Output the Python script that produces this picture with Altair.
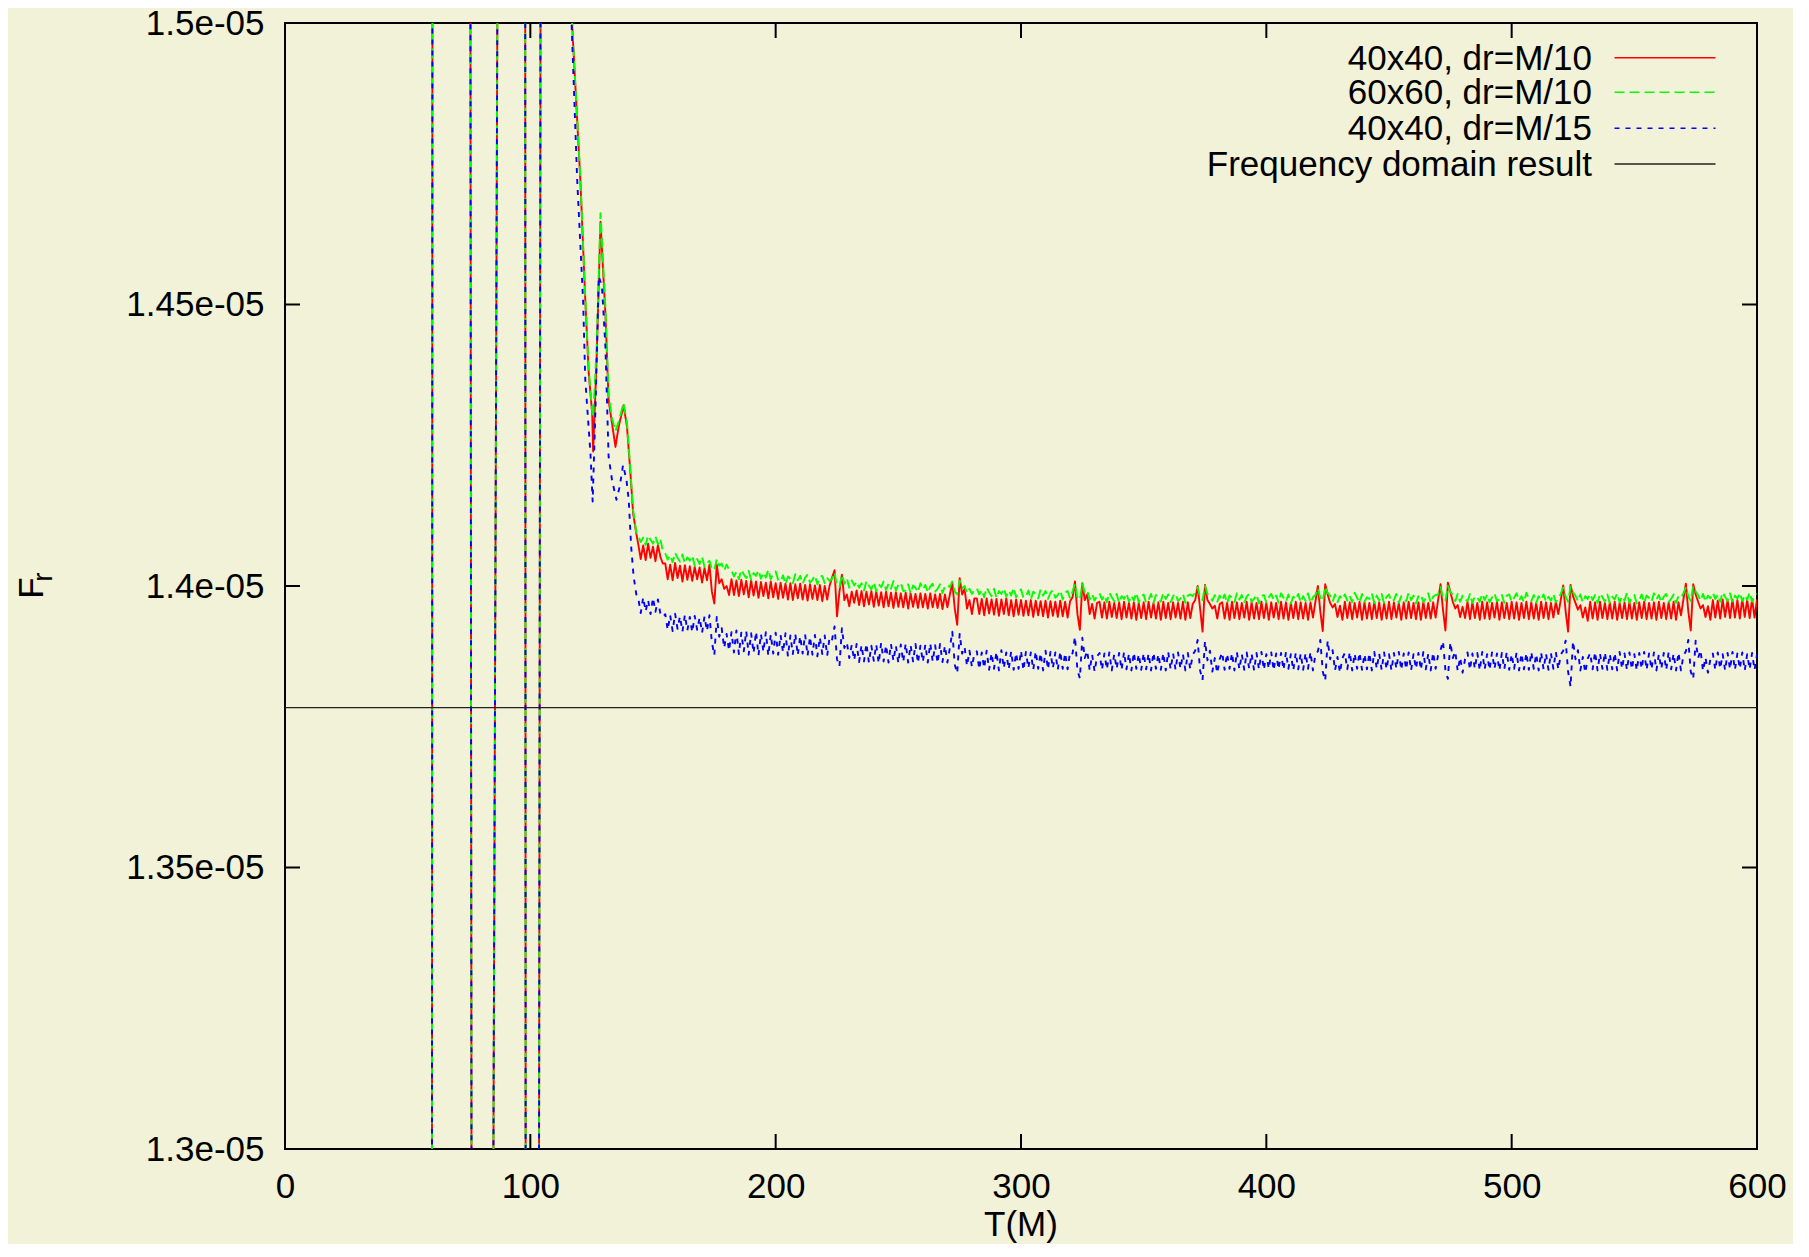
import altair as alt
import pandas as pd

# ---------------- data (F values in units of 1e-9) ----------------
# early part: huge off-scale oscillations (crossings), then the transient
trans_t_rg = [0, 59.9, 60.1, 75.55, 76.05, 84.8, 86.7, 97.9, 98.1, 103.5, 104.2, 110,
              117.0, 120.4, 122.4, 123.8, 125.2, 125.6, 127.0, 128.6, 130.6, 131.9,
              133.3, 134.7, 136.0, 138.0, 139.4, 140.8, 141.9, 143.2]
red_trans = [12800, 12800, 15200, 15200, 12800, 12800, 15200, 15200, 12800, 12800, 15200, 16000,
             15000, 14720, 14508, 14378, 14307, 14239, 14400, 14647, 14484, 14330,
             14289, 14247, 14283, 14321, 14283, 14200, 14129, 14093]
green_trans = [12800, 12800, 15200, 15200, 12800, 12800, 15200, 15200, 12800, 12800, 15200, 16000,
               15000, 14725, 14512, 14385, 14310, 14300, 14420, 14662, 14495, 14340,
               14298, 14275, 14292, 14325, 14290, 14205, 14135, 14095]
trans_t_b = [0, 59.9, 60.1, 75.55, 76.05, 84.8, 86.7, 97.9, 98.1, 103.5, 104.2, 110,
             116.8, 119.1, 121.5, 122.4, 124.5, 125.4, 126.5, 127.9, 129.2, 130.6, 131.9,
             133.3, 135.1, 136.4, 137.8, 139.2, 140.1, 141.1, 142.1, 143.2]
blue_trans = [12800, 12800, 15200, 15200, 12800, 12800, 15200, 15200, 12800, 12800, 15200, 16000,
              15000, 14721, 14508, 14366, 14236, 14150, 14307, 14550, 14532, 14425, 14230,
              14188, 14153, 14176, 14215, 14188, 14153, 14070, 14017, 13985]

# settled part, one sample per unit of T starting at T = 144
tail_start = 144
red_tail = [
    14074, 14048, 14072, 14046, 14075, 14050, 14070, 14044, 14073, 14052,
    14040,
    14040, 14012, 14038, 14010, 14041, 14014, 14036, 14008, 14037, 14011, 14035, 14009, 14034, 14012, 14033, 14006, 14032,
    14010, 14038, 13990, 13969, 14038, 14005, 14012, 13995, 14000, 13984,
    14012, 13984, 14010, 13982, 14011, 13985, 14009, 13980, 14010, 13983, 14008, 13979, 14007, 13982, 14006, 13978,
    14008, 13980, 14005, 13977, 14006, 13979, 14004, 13976, 14005, 13975, 14003, 13978, 14004, 13976, 14002, 13974,
    14003, 13977, 14001, 13975, 14002, 13973, 14000, 13976, 14001,
    14015, 14028, 13946, 13990, 14020, 13975, 13985, 13964, 13990, 13970,
    13992, 13966, 13991, 13964, 13990, 13967, 13991, 13963, 13990, 13965, 13989, 13962, 13990, 13964, 13988, 13961,
    13989, 13963, 13987, 13962, 13988, 13960, 13987, 13963, 13986, 13961, 13987, 13962, 13986, 13960, 13987, 13962,
    13985, 13961, 13986, 13959, 13985, 13962,
    13985, 14005, 13960, 13931, 14014, 13985, 13995, 13960, 13975, 13950, 13978,
    13978, 13950, 13977, 13948, 13978, 13951, 13976, 13949, 13977, 13947, 13976, 13950, 13978, 13948, 13975, 13946,
    13976, 13949, 13975, 13947, 13974, 13948, 13975, 13945, 13974, 13948, 13973, 13946, 13974, 13944, 13973, 13947,
    13972, 13945, 13974, 13946, 13972, 13944, 13973,
    13980, 14008, 13950, 13922, 14005, 13975, 13985, 13950, 13968, 13942, 13970,
    13972, 13944, 13971, 13942, 13972, 13945, 13970, 13943, 13971, 13941, 13972, 13944, 13970, 13942, 13971, 13940,
    13970, 13943, 13971, 13941, 13972, 13944, 13970, 13942, 13971, 13940, 13972, 13943, 13970, 13941, 13971, 13944,
    13970, 13942, 13972, 13940, 13971, 13943,
    13968, 13975, 14000, 13960, 13919, 14002, 13975, 13968, 13960, 13965, 13942, 13968,
    13971, 13942, 13970, 13940, 13972, 13943, 13971, 13941, 13970, 13944, 13972, 13940, 13971, 13942, 13970, 13941,
    13972, 13943, 13970, 13940, 13971, 13944, 13970, 13941, 13972, 13942, 13971, 13940, 13970, 13943, 13972, 13941,
    13971, 13942, 13970, 13940, 13971, 13944,
    13972, 14000, 13955, 13920, 14003, 13985, 13970, 13962, 13968, 13945, 13965, 13940,
    13972, 13943, 13971, 13941, 13970, 13944, 13972, 13940, 13971, 13942, 13970, 13941, 13972, 13943, 13971, 13940,
    13970, 13942, 13972, 13941, 13971, 13944, 13970, 13940, 13971, 13942, 13972, 13943, 13970, 13941, 13971, 13940,
    13972, 13943, 13970, 13942, 13971, 13944,
    13975, 14003, 13958, 13921, 14006, 13990, 13972, 13960, 13966, 13945, 13963, 13943,
    13972, 13941, 13971, 13943, 13970, 13940, 13972, 13942, 13971, 13941, 13970, 13944, 13972, 13940, 13971, 13943,
    13970, 13941, 13972, 13942, 13971, 13940, 13970, 13943, 13972, 13941, 13971, 13942, 13970, 13940, 13972, 13943,
    13971, 13941, 13970, 13944, 13972,
    13950, 13975, 14001, 13955, 13919, 14002, 13982, 13970, 13958, 13966, 13944, 13962, 13938,
    13972, 13942, 13971, 13940, 13972, 13943, 13970, 13941, 13971, 13942, 13972, 13940, 13970, 13943, 13971, 13941,
    13972, 13942, 13970, 13940, 13971, 13943, 13972, 13941, 13970, 13942, 13971, 13940, 13972, 13943, 13970, 13941,
    13971, 13942, 13972, 13940, 13971,
    13948, 13976, 14004, 13955, 13921, 14003, 13985, 13972, 13960, 13966, 13945, 13964, 13940,
    13975, 13944, 13974, 13942, 13976, 13945, 13975, 13943, 13976, 13944, 13975, 13942, 13977, 13945, 13976, 13943,
    13977, 13944, 13976,
]
green_tail = [
    14089, 14078, 14086, 14073, 14090, 14082, 14075, 14088, 14074, 14084,
    14062,
    14058, 14047, 14055, 14042, 14059, 14050, 14043, 14056, 14040, 14051, 14045, 14054, 14036, 14048, 14039, 14052, 14034,
    14040, 14045, 14030, 14028, 14048, 14036, 14040, 14027, 14038, 14029,
    14028, 14017, 14025, 14012, 14029, 14021, 14014, 14027, 14011, 14023, 14018, 14028, 14013, 14024, 14015, 14029,
    14012, 14022, 14026, 14011, 14008, 14019, 14003, 14017, 14013, 14005, 14021, 14010, 14018, 14004, 14015, 14020,
    14006, 14011, 14019, 14003, 14016, 14018, 14005, 14014, 14009,
    14012, 14024, 14000, 13998, 14020, 14004, 14014, 13997, 14010, 14001,
    14008, 13997, 14005, 13992, 14009, 14001, 13994, 14007, 13991, 14003, 13998, 14008, 13993, 14004, 13995, 14009,
    13992, 14002, 14006, 13991, 13992, 14003, 13987, 14001, 13997, 13989, 14005, 13994, 14002, 13988, 13999, 14004,
    13990, 13995, 14003, 13987, 14000, 14002,
    13998, 14008, 13990, 13985, 14010, 13996, 14000, 13987, 13995, 13986, 13993,
    13996, 13985, 13993, 13980, 13997, 13989, 13982, 13995, 13979, 13991, 13986, 13996, 13981, 13992, 13983, 13997,
    13980, 13990, 13994, 13979, 13981, 13992, 13976, 13990, 13986, 13978, 13994, 13983, 13991, 13977, 13988, 13993,
    13979, 13984, 13992, 13976, 13989, 13991, 13978,
    13990, 14004, 13980, 13975, 14005, 13988, 13992, 13976, 13986, 13974, 13983,
    13987, 13976, 13984, 13971, 13988, 13980, 13973, 13986, 13970, 13982, 13977, 13987, 13972, 13983, 13974, 13988,
    13971, 13981, 13985, 13970, 13975, 13986, 13970, 13984, 13980, 13972, 13988, 13977, 13985, 13971, 13982, 13987,
    13973, 13978, 13986, 13970, 13983, 13985,
    13982, 13990, 13998, 13980, 13975, 14000, 13986, 13982, 13974, 13984, 13972, 13983,
    13974, 13985, 13969, 13983, 13979, 13971, 13987, 13976, 13984, 13970, 13981, 13986, 13972, 13977, 13985, 13969,
    13982, 13984, 13971, 13980, 13986, 13975, 13983, 13970, 13987, 13979, 13972, 13985, 13969, 13981, 13976, 13986,
    13971, 13982, 13973, 13987, 13970, 13980,
    13984, 13996, 13979, 13973, 13999, 13988, 13983, 13972, 13985, 13971, 13982, 13976,
    13985, 13974, 13983, 13971, 13988, 13979, 13970, 13986, 13972, 13980, 13977, 13987, 13970, 13983, 13974, 13986,
    13969, 13981, 13985, 13972, 13975, 13986, 13970, 13982, 13980, 13973, 13988, 13975, 13983, 13969, 13982, 13985,
    13971, 13978, 13987, 13970, 13981, 13984,
    13985, 13998, 13980, 13974, 14000, 13990, 13984, 13973, 13986, 13972, 13983, 13977,
    13973, 13986, 13970, 13982, 13980, 13972, 13986, 13975, 13985, 13971, 13980, 13987, 13973, 13976, 13984, 13970,
    13983, 13985, 13972, 13979, 13987, 13974, 13982, 13971, 13988, 13978, 13973, 13984, 13970, 13982, 13975, 13985,
    13972, 13981, 13974, 13986, 13971,
    13978, 13986, 13997, 13981, 13972, 13999, 13989, 13983, 13973, 13985, 13971, 13982, 13977,
    13986, 13975, 13984, 13970, 13987, 13980, 13972, 13985, 13970, 13981, 13976, 13987, 13971, 13982, 13974, 13988,
    13970, 13980, 13984, 13969, 13974, 13985, 13970, 13983, 13979, 13972, 13987, 13976, 13984, 13971, 13981, 13986,
    13972, 13977, 13985, 13970, 13982,
    13979, 13987, 13998, 13982, 13973, 14000, 13990, 13984, 13974, 13986, 13972, 13983, 13978,
    13988, 13977, 13985, 13972, 13989, 13981, 13974, 13987, 13971, 13983, 13978, 13988, 13973, 13984, 13975, 13989,
    13972, 13982, 13986,
]
blue_tail = [
    13978, 13952, 13980, 13955, 13975, 13950, 13979, 13954, 13976, 13951,
    13945,
    13950, 13922, 13948, 13920, 13951, 13924, 13946, 13919, 13949, 13921, 13945, 13918, 13947, 13922, 13944, 13917, 13946,
    13920, 13948, 13900, 13877, 13945, 13910, 13925, 13890, 13915, 13885,
    13918, 13882, 13921, 13879, 13917, 13884, 13920, 13878, 13916, 13881, 13919, 13877, 13915, 13883, 13918, 13876,
    13914, 13880, 13917, 13878, 13913, 13882, 13916, 13875, 13912, 13879, 13915, 13877, 13911, 13880, 13914, 13876,
    13910, 13878, 13913, 13875, 13909, 13879, 13912, 13876, 13910,
    13905, 13928, 13870, 13857, 13925, 13890, 13900, 13872, 13895, 13868,
    13897, 13865, 13895, 13866, 13898, 13864, 13894, 13867, 13896, 13863, 13899, 13866, 13895, 13864, 13897, 13867,
    13894, 13863, 13896, 13865, 13898, 13864, 13895, 13866, 13897, 13863, 13894, 13865, 13896, 13864, 13898, 13866,
    13895, 13863, 13897, 13865, 13894, 13864,
    13890, 13919, 13860, 13845, 13915, 13880, 13892, 13858, 13885, 13856, 13880,
    13884, 13852, 13882, 13854, 13885, 13851, 13881, 13853, 13883, 13850, 13886, 13854, 13882, 13852, 13884, 13851,
    13881, 13853, 13885, 13850, 13883, 13854, 13882, 13851, 13884, 13853, 13881, 13850, 13885, 13852, 13883, 13854,
    13882, 13851, 13884, 13853, 13881, 13852, 13883,
    13880, 13910, 13850, 13836, 13908, 13872, 13885, 13850, 13878, 13848, 13875,
    13881, 13851, 13880, 13852, 13882, 13850, 13879, 13853, 13881, 13851, 13883, 13852, 13880, 13850, 13882, 13853,
    13879, 13851, 13881, 13852, 13880, 13850, 13882, 13853, 13879, 13851, 13881, 13850, 13883, 13852, 13880, 13851,
    13882, 13853, 13879, 13850, 13881, 13852,
    13878, 13885, 13904, 13850, 13833, 13902, 13868, 13885, 13848, 13872, 13845, 13870,
    13882, 13851, 13880, 13853, 13881, 13850, 13883, 13852, 13879, 13851, 13882, 13853, 13880, 13850, 13881, 13852,
    13883, 13851, 13879, 13853, 13882, 13850, 13880, 13852, 13881, 13851, 13883, 13853, 13879, 13850, 13882, 13852,
    13880, 13851, 13881, 13853, 13883, 13850,
    13878, 13884, 13904, 13848, 13832, 13903, 13870, 13886, 13850, 13874, 13846, 13872,
    13881, 13852, 13883, 13850, 13880, 13853, 13882, 13851, 13879, 13852, 13881, 13850, 13883, 13853, 13880, 13851,
    13882, 13852, 13879, 13850, 13881, 13853, 13883, 13851, 13880, 13852, 13882, 13850, 13879, 13853, 13881, 13851,
    13883, 13852, 13880, 13850, 13882, 13853,
    13877, 13886, 13902, 13850, 13835, 13900, 13872, 13884, 13849, 13873, 13846, 13870,
    13882, 13851, 13880, 13853, 13881, 13850, 13883, 13852, 13879, 13851, 13882, 13853, 13880, 13850, 13881, 13852,
    13883, 13851, 13879, 13853, 13882, 13850, 13880, 13852, 13881, 13851, 13883, 13853, 13879, 13850, 13882, 13852,
    13880, 13851, 13881, 13853, 13883,
    13852, 13878, 13885, 13903, 13848, 13821, 13902, 13870, 13886, 13850, 13874, 13846, 13871,
    13881, 13852, 13883, 13850, 13880, 13853, 13882, 13851, 13879, 13852, 13881, 13850, 13883, 13853, 13880, 13851,
    13882, 13852, 13879, 13850, 13881, 13853, 13883, 13851, 13880, 13852, 13882, 13850, 13879, 13853, 13881, 13851,
    13883, 13852, 13880, 13850, 13882,
    13850, 13876, 13884, 13904, 13848, 13835, 13903, 13872, 13886, 13849, 13873, 13846, 13870,
    13880, 13851, 13882, 13853, 13879, 13850, 13881, 13852, 13883, 13851, 13880, 13853, 13882, 13850, 13879, 13852,
    13881, 13851, 13878,
]
freq_result = 1.3784e-05

series_names = ["40x40, dr=M/10", "60x60, dr=M/10", "40x40, dr=M/15", "Frequency domain result"]
series_colors = ["#ff0000", "#00ff00", "#0000ff", "#000000"]
x_ticks = [0, 100, 200, 300, 400, 500, 600]
y_ticks = [1.30e-05, 1.35e-05, 1.40e-05, 1.45e-05, 1.50e-05]

# ---------------- build tables ----------------
def series_df(trans_t, trans_v, tail_v):
    t = list(trans_t) + [tail_start + i for i in range(len(tail_v))]
    v = list(trans_v) + list(tail_v)
    return pd.DataFrame({"T": t, "F": [x * 1e-9 for x in v]})

df_red = series_df(trans_t_rg, red_trans, red_tail)
df_green = series_df(trans_t_rg, green_trans, green_tail)
df_blue = series_df(trans_t_b, blue_trans, blue_tail)

W, H = 1472, 1126
BG = "#f2f2d8"
FONT = "Liberation Sans"
FS = 35

xscale = alt.Scale(domain=[0, 600], nice=False, zero=False)
yscale = alt.Scale(domain=[1.3e-05, 1.5e-05], nice=False, zero=False)
xaxis = alt.Axis(values=x_ticks, title=None, ticks=False, tickSize=0, domain=False, grid=False,
                 labelFontSize=FS, labelFont=FONT, labelColor="black", labelPadding=20,
                 labelFlush=False, labelOverlap=False)
yaxis = alt.Axis(values=y_ticks, title=None, ticks=False, tickSize=0, domain=False, grid=False,
                 labelFontSize=FS, labelFont=FONT, labelColor="black", labelPadding=21,
                 labelFlush=False, labelOverlap=False,
                 labelExpr="replace(format(datum.value, '.3~e'), 'e-', 'e-0')")
X = alt.X("T:Q", scale=xscale, axis=xaxis)
Y = alt.Y("F:Q", scale=yscale, axis=yaxis)

def line_layer(df, color, dash=None, width=1.9):
    kw = dict(color=color, strokeWidth=width, clip=True, strokeJoin="round")
    if dash:
        kw["strokeDash"] = dash
    return alt.Chart(df).mark_line(**kw).encode(x=X, y=Y)

red = line_layer(df_red, series_colors[0])
green = line_layer(df_green, series_colors[1], [10, 5])
blue = line_layer(df_blue, series_colors[2], [5, 6])
freq = alt.Chart(pd.DataFrame({"F": [freq_result]})).mark_rule(
    color="#222222", strokeWidth=1.3).encode(y=Y)

# inward tick marks on all four sides
xt = pd.DataFrame({"T": x_ticks})
yt = pd.DataFrame({"F": y_ticks})
TL = 15
tick_kw = dict(color="black", strokeWidth=2)
tb = alt.Chart(xt).mark_rule(**tick_kw).encode(x=X, y=alt.value(H), y2=alt.value(H - TL))
tt = alt.Chart(xt).mark_rule(**tick_kw).encode(x=X, y=alt.value(0), y2=alt.value(TL))
tl = alt.Chart(yt).mark_rule(**tick_kw).encode(y=Y, x=alt.value(0), x2=alt.value(TL))
tr = alt.Chart(yt).mark_rule(**tick_kw).encode(y=Y, x=alt.value(W), x2=alt.value(W - TL))

# legend (text left of sample line, top right)
leg_layers = []
row_y = [34.7, 69.3, 105.3, 141.0]
dashes = [None, [10, 5], [5, 6], None]
widths = [1.6, 1.6, 1.6, 1.3]
for i, name in enumerate(series_names):
    d = pd.DataFrame({"label": [name]})
    leg_layers.append(alt.Chart(d).mark_text(
        align="right", baseline="middle", font=FONT, fontSize=FS, color="black"
    ).encode(text="label:N", x=alt.value(1307), y=alt.value(row_y[i] + 1)))
    kw = dict(color=series_colors[i] if i < 3 else "#222222", strokeWidth=widths[i])
    if dashes[i]:
        kw["strokeDash"] = dashes[i]
    leg_layers.append(alt.Chart(d).mark_rule(**kw).encode(
        x=alt.value(1329.5), x2=alt.value(1430.5), y=alt.value(row_y[i])))

# axis titles
xtitle = alt.Chart(pd.DataFrame({"label": ["T(M)"]})).mark_text(
    align="center", baseline="alphabetic", font=FONT, fontSize=FS, color="black"
).encode(text="label:N", x=alt.value(W / 2), y=alt.value(H + 87))
ytitle_f = alt.Chart(pd.DataFrame({"label": ["F"]})).mark_text(
    align="center", baseline="alphabetic", font=FONT, fontSize=FS, color="black", angle=270
).encode(text="label:N", x=alt.value(-242), y=alt.value(565))
ytitle_r = alt.Chart(pd.DataFrame({"label": ["r"]})).mark_text(
    align="center", baseline="alphabetic", font=FONT, fontSize=28, color="black", angle=270
).encode(text="label:N", x=alt.value(-233), y=alt.value(554))

chart = alt.layer(
    red, green, blue, freq, tb, tt, tl, tr, *leg_layers, xtitle, ytitle_f, ytitle_r
).properties(
    width=W, height=H,
    autosize=alt.AutoSizeParams(type="none"),
    padding={"left": 277, "top": 15, "right": 36, "bottom": 95},
    background=BG,
).configure_view(
    stroke="black", strokeWidth=2, fill=BG
)

chart.save("out.html", embed_options={"renderer": "svg", "actions": False})
